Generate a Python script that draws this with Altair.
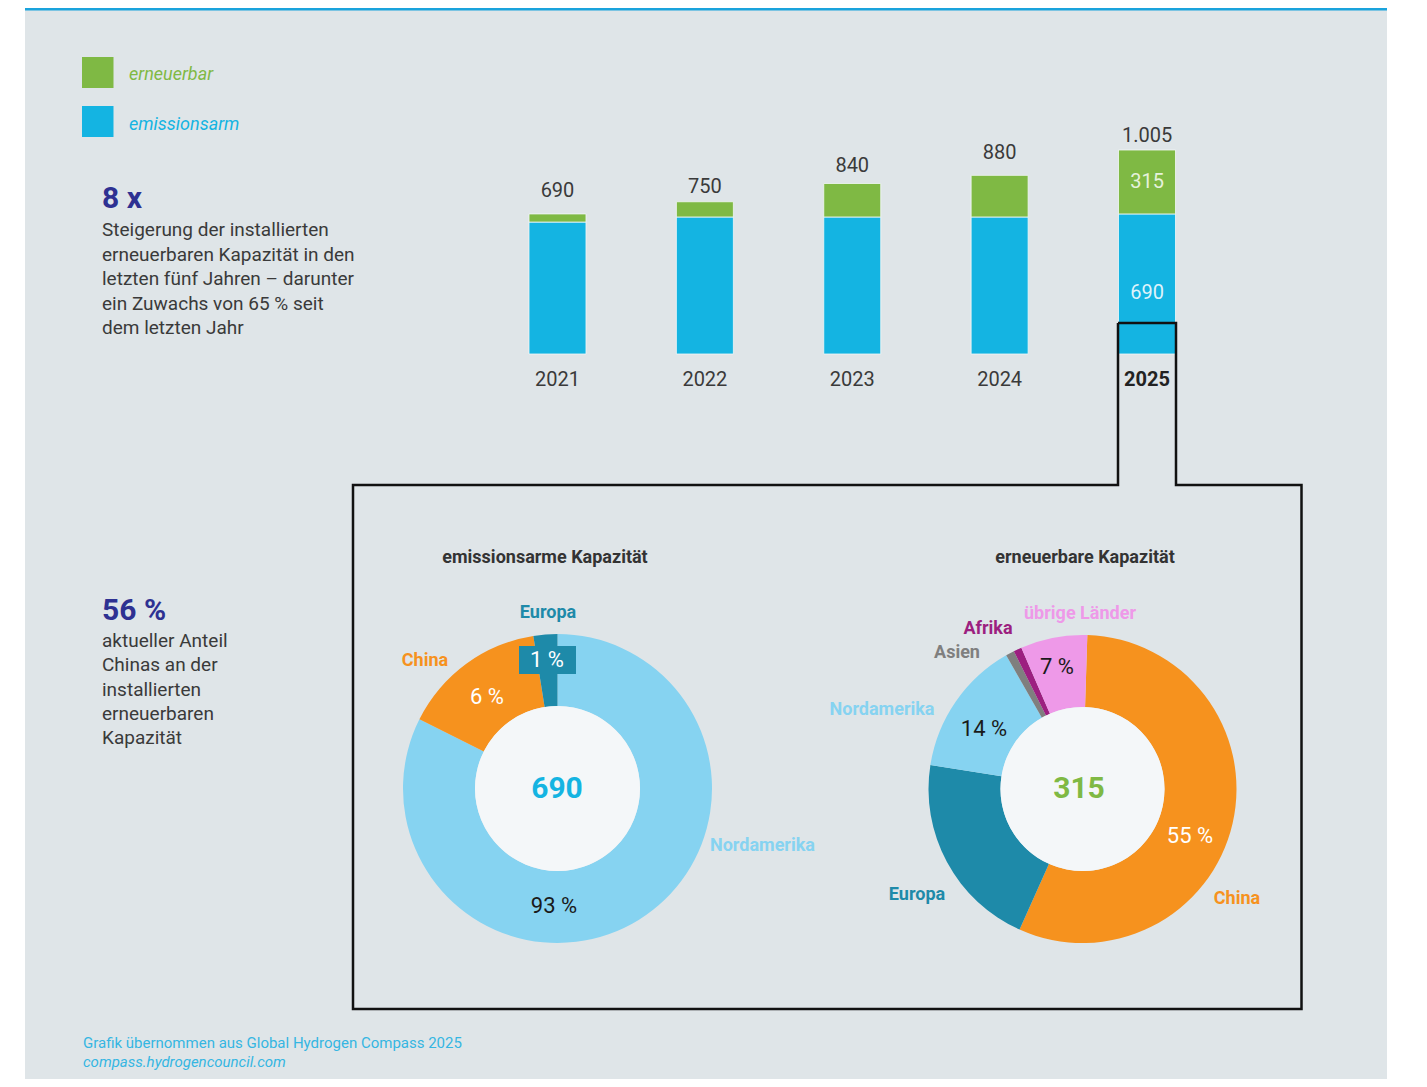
import math
import altair as alt
import pandas as pd

# ---------------- data ----------------
years = ["2021", "2022", "2023", "2024", "2025"]
emissionsarm = [650, 675, 675, 675, 690]
erneuerbar = [40, 75, 165, 205, 315]
series = ["emissionsarm", "erneuerbar"]
legend_items = ["erneuerbar", "emissionsarm"]

low_regions = ["Nordamerika", "China", "Europa"]
low_share_drawn = [82.4, 15.1, 2.5]          # arc sizes as drawn in the reference
low_labels = ["93 %", "6 %", "1 %"]
low_total = 690

ren_regions = ["China", "Europa", "Nordamerika", "Asien", "Afrika", "übrige Länder"]
ren_share_drawn = [56.2, 20.8, 14.25, 0.9, 0.85, 7.0]
ren_labels = ["55 %", "", "14 %", "", "", "7 %"]
ren_total = 315

para1_head = "8 x"
para1 = ["Steigerung der installierten", "erneuerbaren Kapazität in den",
         "letzten fünf Jahren – darunter", "ein Zuwachs von 65 % seit", "dem letzten Jahr"]
para2_head = "56 %"
para2 = ["aktueller Anteil", "Chinas an der", "installierten", "erneuerbaren", "Kapazität"]
footer = ["Grafik übernommen aus Global Hydrogen Compass 2025", "compass.hydrogencouncil.com"]

# ---------------- styles / layout ----------------
FONT = "Roboto"
W, H = 1411, 1071
BG = "#dfe5e8"
BLUE = "#14b4e2"
GREEN = "#7fb944"
ORANGE = "#f6921e"
TEAL = "#1e8aa9"
LIGHTBLUE = "#86d3f1"
PINK = "#ee99e8"
PURPLE = "#9c1f80"
GREY = "#7f7f7f"
NAVY = "#2e3192"
DARK = "#3a3a3a"
DISC = "#f4f7f9"
region_colors = {"Nordamerika": LIGHTBLUE, "China": ORANGE, "Europa": TEAL,
                 "Asien": GREY, "Afrika": PURPLE, "übrige Länder": PINK}
total_label_dy = [-23, -15, -17, -22, -14]   # vertical offset of each total label (px)

X_RANGE = [475.8, 1212.7]
Y_RANGE = [346, 142]
xscale = alt.Scale(domain=years, range=X_RANGE, paddingInner=0.6133, paddingOuter=0.3067)
yscale = alt.Scale(domain=[0, 1005], range=Y_RANGE)

one = pd.DataFrame({"v": [1]})


def text_layer(rows, **kw):
    df = pd.DataFrame(rows, columns=["x", "y", "t"])
    base = dict(font=FONT)
    base.update(kw)
    return alt.Chart(df).mark_text(**base).encode(
        x=alt.X("x:Q", scale=None, axis=None),
        y=alt.Y("y:Q", scale=None, axis=None),
        text="t:N",
    )


layers = []

# background panel + top line
layers.append(alt.Chart(one).mark_rect(color=BG).encode(
    x=alt.value(17), x2=alt.value(1379), y=alt.value(0), y2=alt.value(H)))
layers.append(alt.Chart(one).mark_rect(color="#1aa3dc").encode(
    x=alt.value(17), x2=alt.value(1379), y=alt.value(0), y2=alt.value(2.5)))

# legend
leg = pd.DataFrame({"item": legend_items, "y0": [49, 98], "y1": [80, 129]})
layers.append(alt.Chart(leg).mark_rect().encode(
    x=alt.value(74), x2=alt.value(105.5),
    y=alt.Y("y0:Q", scale=None, axis=None), y2="y1:Q",
    color=alt.Color("item:N", scale=alt.Scale(domain=legend_items, range=[GREEN, BLUE]), legend=None),
))
layers.append(text_layer([(121, 67, legend_items[0])], align="left", baseline="middle",
                         fontSize=18, fontStyle="italic", color=GREEN))
layers.append(text_layer([(121, 117, legend_items[1])], align="left", baseline="middle",
                         fontSize=18, fontStyle="italic", color=BLUE))

# left text blocks
layers.append(text_layer([(94, 191, para1_head)], align="left", baseline="middle",
                         fontSize=30, fontWeight="bold", color=NAVY))
layers.append(text_layer([(94, 222 + i * 24.5, s) for i, s in enumerate(para1)],
                         align="left", baseline="middle", fontSize=19, color=DARK))
layers.append(text_layer([(94, 603, para2_head)], align="left", baseline="middle",
                         fontSize=30, fontWeight="bold", color=NAVY))
layers.append(text_layer([(94, 633 + i * 24.3, s) for i, s in enumerate(para2)],
                         align="left", baseline="middle", fontSize=19, color=DARK))

# bars
rows = []
for i, yr in enumerate(years):
    rows.append({"year": yr, "series": "emissionsarm", "value": emissionsarm[i], "ord": 0,
                 "mid": emissionsarm[i] / 2})
    rows.append({"year": yr, "series": "erneuerbar", "value": erneuerbar[i], "ord": 1,
                 "mid": emissionsarm[i] + erneuerbar[i] / 2})
bars = pd.DataFrame(rows)
layers.append(alt.Chart(bars).mark_bar(stroke="#f2f7f8", strokeWidth=1, strokeOpacity=0.8).encode(
    x=alt.X("year:N", scale=xscale, axis=None),
    y=alt.Y("value:Q", stack="zero", scale=yscale, axis=None),
    color=alt.Color("series:N", scale=alt.Scale(domain=series, range=[BLUE, GREEN]), legend=None),
    order=alt.Order("ord:Q"),
))

tot = pd.DataFrame({"year": years, "total": [a + b for a, b in zip(emissionsarm, erneuerbar)]})
for yr, dy in zip(years, total_label_dy):
    layers.append(alt.Chart(tot).transform_filter(alt.datum.year == yr).transform_calculate(
        lab="replace(format(datum.total, ','), ',', '.')"
    ).mark_text(font=FONT, fontSize=20, color=DARK, baseline="middle", dy=dy).encode(
        x=alt.X("year:N", scale=xscale, axis=None),
        y=alt.Y("total:Q", scale=yscale, axis=None),
        text="lab:N",
    ))
# year labels
layers.append(alt.Chart(tot).transform_filter(alt.datum.year != years[-1]).mark_text(
    font=FONT, fontSize=20, color=DARK, baseline="middle").encode(
    x=alt.X("year:N", scale=xscale, axis=None), y=alt.value(372), text="year:N"))
layers.append(alt.Chart(tot).transform_filter(alt.datum.year == years[-1]).mark_text(
    font=FONT, fontSize=20, fontWeight="bold", color="#222222", baseline="middle").encode(
    x=alt.X("year:N", scale=xscale, axis=None), y=alt.value(372), text="year:N"))
# inner labels of the last bar
inner = bars[bars["year"] == years[-1]]
layers.append(alt.Chart(inner[inner["series"] == "erneuerbar"]).mark_text(
    font=FONT, fontSize=20, color="#e6f2dc", baseline="middle").encode(
    x=alt.X("year:N", scale=xscale, axis=None),
    y=alt.Y("mid:Q", scale=yscale, axis=None), text="value:N"))
layers.append(alt.Chart(inner[inner["series"] == "emissionsarm"]).mark_text(
    font=FONT, fontSize=20, color="#dff3fb", baseline="middle", dy=9).encode(
    x=alt.X("year:N", scale=xscale, axis=None),
    y=alt.Y("mid:Q", scale=yscale, axis=None), text="value:N"))

# frame linking 2025 bar to the donut panel
frame = pd.DataFrame({
    "px": [1110, 1168, 1168, 1293.5, 1293.5, 345, 345, 1110, 1110],
    "py": [315, 315, 477, 477, 1001, 1001, 477, 477, 315],
    "k": list(range(9)),
})
layers.append(alt.Chart(frame).mark_line(color="#111111", strokeWidth=2.5, strokeJoin="miter").encode(
    x=alt.X("px:Q", scale=None, axis=None), y=alt.Y("py:Q", scale=None, axis=None),
    order=alt.Order("k:Q")))

# donut titles
layers.append(text_layer([(537, 550, "emissionsarme Kapazität"), (1077, 550, "erneuerbare Kapazität")],
                         align="center", baseline="middle", fontSize=18, fontWeight="bold", color="#333333"))


def donut(regions, shares, cx, cy, r_out, r_in, start):
    df = pd.DataFrame({"region": regions, "share": shares, "k": range(len(regions))})
    return alt.Chart(df).mark_arc(outerRadius=r_out, innerRadius=r_in).encode(
        theta=alt.Theta("share:Q", stack=True,
                        scale=alt.Scale(range=[start, start + 2 * math.pi])),
        color=alt.Color("region:N", scale=alt.Scale(domain=regions,
                        range=[region_colors[r] for r in regions]), legend=None),
        order=alt.Order("k:Q"),
        x=alt.value(cx), y=alt.value(cy),
    )


def disc(cx, cy, r):
    return alt.Chart(one).mark_arc(outerRadius=r, innerRadius=0, color=DISC).encode(
        theta=alt.Theta("v:Q"), x=alt.value(cx), y=alt.value(cy))


# left donut
layers.append(donut(low_regions, low_share_drawn, 549.5, 780.5, 154.5, 82.5, 0.0))
layers.append(disc(549.5, 780.5, 82.5))
layers.append(alt.Chart(one).mark_rect(color=TEAL).encode(
    x=alt.value(511), x2=alt.value(568), y=alt.value(638), y2=alt.value(666)))
layers.append(text_layer([(539, 652, low_labels[2]), (479, 689, low_labels[1])],
                         align="center", baseline="middle", fontSize=22, color="white"))
layers.append(text_layer([(546, 898, low_labels[0])], align="center", baseline="middle",
                         fontSize=22, color="#1a1a1a"))
layers.append(text_layer([(549, 781, str(low_total))], align="center", baseline="middle",
                         fontSize=30, fontWeight="bold", color=BLUE))
layers.append(text_layer([(540, 605, "Europa")], align="center", baseline="middle",
                         fontSize=18, fontWeight="bold", color=TEAL))
layers.append(text_layer([(417, 653, "China")], align="center", baseline="middle",
                         fontSize=18, fontWeight="bold", color=ORANGE))
layers.append(text_layer([(702, 838, "Nordamerika")], align="left", baseline="middle",
                         fontSize=18, fontWeight="bold", color=LIGHTBLUE))

# right donut
layers.append(donut(ren_regions, ren_share_drawn, 1074.5, 781, 154, 82, 0.0314))
layers.append(disc(1074.5, 781, 82))
layers.append(text_layer([(1182, 828, ren_labels[0])], align="center", baseline="middle",
                         fontSize=22, color="white"))
layers.append(text_layer([(976, 721, ren_labels[2]), (1049, 659, ren_labels[5])],
                         align="center", baseline="middle", fontSize=22, color="#1a1a1a"))
layers.append(text_layer([(1071, 781, str(ren_total))], align="center", baseline="middle",
                         fontSize=30, fontWeight="bold", color=GREEN))
for (x, y, t, c) in [(1072, 606, "übrige Länder", PINK), (980, 621, "Afrika", PURPLE),
                     (949, 645, "Asien", GREY), (874, 702, "Nordamerika", LIGHTBLUE),
                     (909, 887, "Europa", TEAL), (1229, 891, "China", ORANGE)]:
    layers.append(text_layer([(x, y, t)], align="center", baseline="middle",
                             fontSize=18, fontWeight="bold", color=c))

# footer
layers.append(text_layer([(75, 1035, footer[0])], align="left", baseline="middle",
                         fontSize=15, color="#35b6e2"))
layers.append(text_layer([(75, 1054, footer[1])], align="left", baseline="middle",
                         fontSize=15, fontStyle="italic", color="#35b6e2"))

chart = alt.layer(*layers).resolve_scale(
    x="independent", y="independent", theta="independent", color="independent"
).properties(
    width=W, height=H, autosize=alt.AutoSizeParams(type="none"), padding=0, background="white"
).configure_view(stroke=None)

chart.save("out.html", embed_options={"renderer": "svg", "actions": False})
